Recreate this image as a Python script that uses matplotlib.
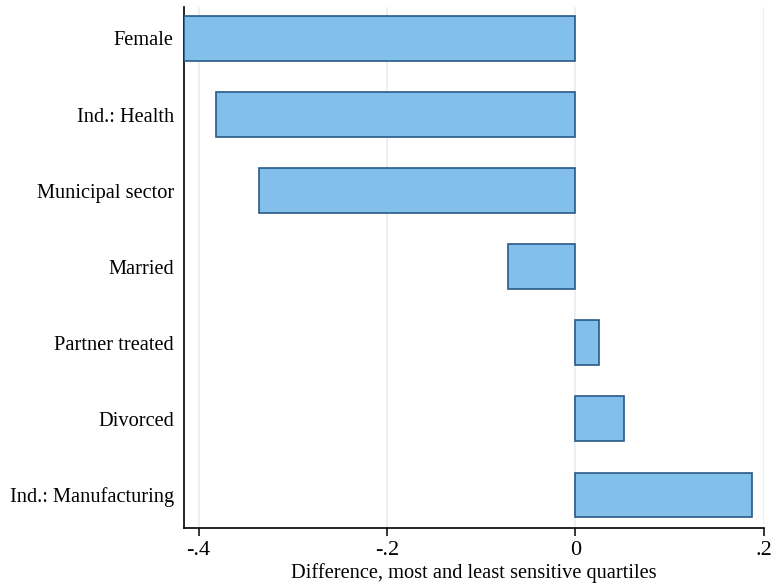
import matplotlib
matplotlib.use("Agg")
import matplotlib.pyplot as plt

# differences between most and least sensitive quartiles
labels = ["Female", "Ind.: Health", "Municipal sector", "Married",
          "Partner treated", "Divorced", "Ind.: Manufacturing"]
diffs = [-0.416, -0.381, -0.336, -0.071, 0.025, 0.052, 0.188]
xticks = [-0.4, -0.2, 0, 0.2]
xtick_labels = ["-.4", "-.2", "0", ".2"]

plt.rcParams["font.family"] = ["Liberation Serif", "DejaVu Serif"]

fig = plt.figure(figsize=(7.72, 5.83), dpi=100)
ax = fig.add_axes([0.2377, 0.0935, 0.7514, 0.8945])

pos = list(range(len(labels)))
ax.barh(pos, diffs, height=0.59, color="#82bfea", edgecolor="#2a5a88",
        linewidth=1.2, zorder=3)

ax.set_xlim(-0.416, 0.2)
ax.set_ylim(6.44, -0.414)
ax.set_yticks(pos)
ax.set_yticklabels(labels, fontsize=14.7)
ax.tick_params(axis="y", length=0, pad=7)
ax.set_xticks(xticks)
ax.set_xticklabels(xtick_labels, fontsize=16)
ax.tick_params(axis="x", length=6, width=1.1, pad=3)
ax.set_xlabel("Difference, most and least sensitive quartiles", fontsize=14.7,
              labelpad=2)

ax.grid(axis="x", color="#e6eff3", linewidth=1.2, zorder=0)
ax.spines["top"].set_visible(False)
ax.spines["right"].set_visible(False)
ax.spines["left"].set_linewidth(1.2)
ax.spines["bottom"].set_linewidth(1.2)

fig.savefig("out.png", dpi=100)
